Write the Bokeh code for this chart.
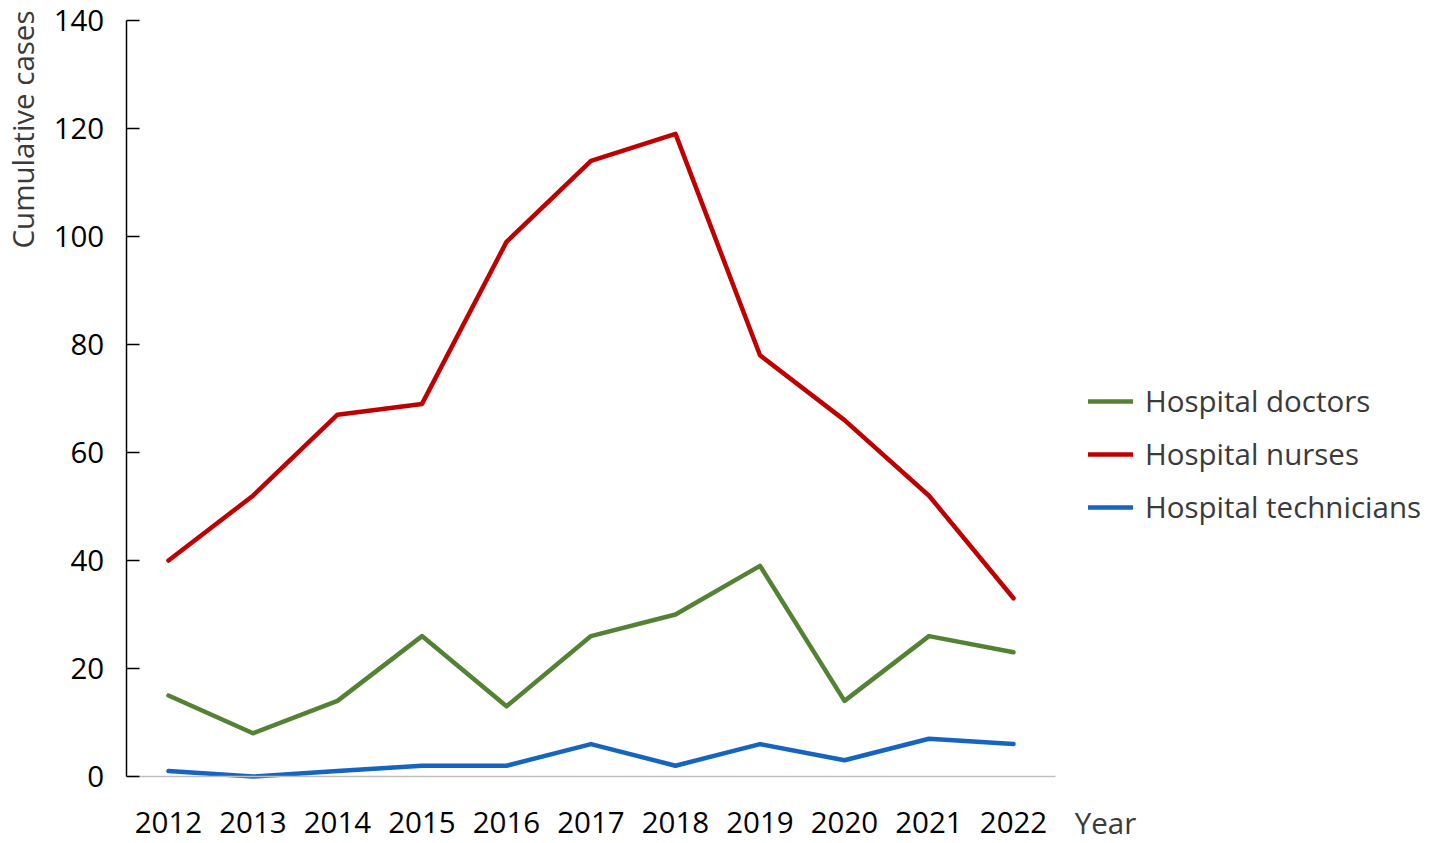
from bokeh.plotting import figure
from bokeh.models import Range1d, FixedTicker, Label, Legend, LegendItem
from bokeh.embed import file_html
from bokeh.resources import INLINE
import math

years = [2012, 2013, 2014, 2015, 2016, 2017, 2018, 2019, 2020, 2021, 2022]
doctors = [15, 8, 14, 26, 13, 26, 30, 39, 14, 26, 23]
nurses = [40, 52, 67, 69, 99, 114, 119, 78, 66, 52, 33]
technicians = [1, 0, 1, 2, 2, 6, 2, 6, 3, 7, 6]
y_ticks = [0, 20, 40, 60, 80, 100, 120, 140]

FONT = "Open Sans"
FS = "29.5px"
TXT = "#3a3a3a"
W, H = 1429, 843

# frame covers the whole canvas; axes are pinned at fixed locations
p = figure(width=W, height=H, output_backend="svg", toolbar_location=None,
           x_range=Range1d(2010.012, 2026.923), y_range=Range1d(-12.407, 143.704),
           min_border=0, min_border_left=0, min_border_right=0,
           min_border_top=0, min_border_bottom=0)
p.outline_line_color = None
p.xgrid.visible = False
p.ygrid.visible = False

lw = 4.5
r1 = p.line(years, doctors, line_color="#548235", line_width=lw, line_join="round", line_cap="round")
r2 = p.line(years, nurses, line_color="#C00000", line_width=lw, line_join="round", line_cap="round")
r3 = p.line(years, technicians, line_color="#1565C0", line_width=lw, line_join="round", line_cap="round")

xa = p.xaxis[0]
xa.fixed_location = 0
xa.bounds = (2011.5, 2022.5)
xa.ticker = FixedTicker(ticks=years)
xa.axis_line_color = "#BFBFBF"
xa.axis_line_width = 1.5
xa.major_tick_line_color = None
xa.minor_tick_line_color = None
xa.major_tick_in = 0
xa.major_tick_out = 0
xa.major_label_standoff = 35
xa.major_label_text_font = FONT
xa.major_label_text_font_size = FS
xa.major_label_text_color = "#000000"

ya = p.yaxis[0]
ya.fixed_location = 2011.5
ya.bounds = (0, 140)
ya.ticker = FixedTicker(ticks=y_ticks)
ya.axis_line_color = "#000000"
ya.axis_line_width = 1.5
ya.major_tick_line_color = "#000000"
ya.major_tick_line_width = 1.5
ya.major_tick_in = 13
ya.major_tick_out = 0
ya.minor_tick_line_color = None
ya.major_label_standoff = 22
ya.major_label_text_font = FONT
ya.major_label_text_font_size = FS
ya.major_label_text_color = "#000000"

p.add_layout(Label(x=2022.5, y=0, x_offset=19, y_offset=-46, text="Year",
                   text_font=FONT, text_font_size=FS, text_color=TXT,
                   text_align="left", text_baseline="middle"))
p.add_layout(Label(x=2011.5, y=140, x_offset=-104, y_offset=10, text="Cumulative cases",
                   angle=math.pi / 2, text_font=FONT, text_font_size=FS, text_color=TXT,
                   text_align="right", text_baseline="middle"))

legend = Legend(items=[LegendItem(label="Hospital doctors", renderers=[r1]),
                       LegendItem(label="Hospital nurses", renderers=[r2]),
                       LegendItem(label="Hospital technicians", renderers=[r3])],
                location=(1088, 316))
legend.border_line_color = None
legend.background_fill_alpha = 0
legend.padding = 0
legend.margin = 0
legend.spacing = 12
legend.glyph_width = 45
legend.glyph_height = 40
legend.label_height = 40
legend.label_standoff = 12
legend.label_text_font = FONT
legend.label_text_font_size = FS
legend.label_text_color = TXT
p.add_layout(legend, "center")

open("out.html", "w").write(file_html(p, INLINE))
